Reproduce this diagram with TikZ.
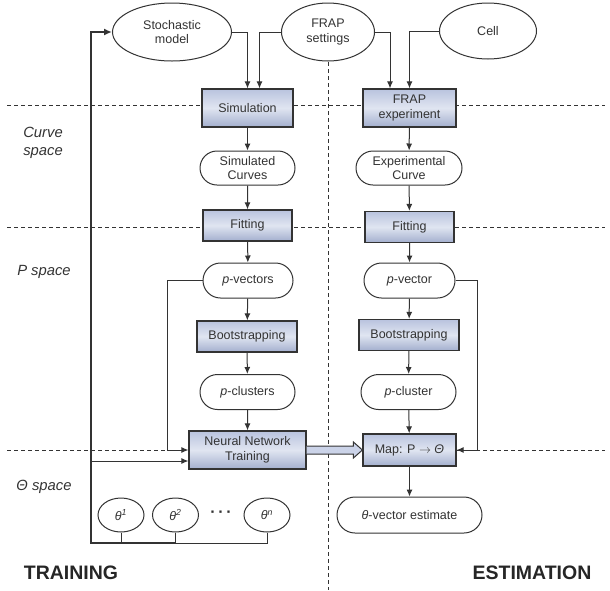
\documentclass[tikz,border=0pt]{standalone}
\usepackage{fontspec}
\setmainfont{Liberation Sans}
\usetikzlibrary{shapes.geometric,shapes.misc,arrows.meta,calc}
\definecolor{ink}{HTML}{333333}
\definecolor{boxtop}{HTML}{B9C3DE}
\definecolor{boxmid}{HTML}{E0E5F1}
\definecolor{boxbot}{HTML}{A3AFCE}
\definecolor{arrfill}{HTML}{CBD3E8}
\begin{document}
\begin{tikzpicture}[x=1pt,y=-1pt,
  every node/.style={text=ink,font=\fontsize{12.5}{14.5}\selectfont,align=center,inner sep=1pt},
  procbox/.style={draw=ink,line width=1.2pt,rectangle,top color=boxtop,bottom color=boxbot,middle color=boxmid,minimum height=31pt},
  databox/.style={draw=ink,line width=1pt,rounded rectangle,fill=white,minimum height=35pt},
  oval/.style={draw=ink,line width=1pt,ellipse,fill=white,inner sep=0pt},
  thetaoval/.style={draw=ink,line width=1pt,ellipse,fill=white,inner sep=0pt,minimum width=46pt,minimum height=34pt},
  conn/.style={draw=ink,line width=1pt,-{Latex[length=7pt,width=6pt]}},
  plainline/.style={draw=ink,line width=1pt},
  loopline/.style={draw=ink,line width=1.8pt},
  sep/.style={draw=ink,line width=0.8pt,dash pattern=on 4pt off 3pt},
  spacelabel/.style={font=\itshape\fontsize{14.8}{18}\selectfont},
  biglabel/.style={font=\bfseries\fontsize{19.5}{22}\selectfont,text=black!85}
]
\useasboundingbox (0,0) rectangle (610,590);

% separators
\draw[sep] (7,105) -- (605,105);
\draw[sep] (7,227) -- (605,227);
\draw[sep] (7,450) -- (605,450);
\draw[sep] (328,62) -- (328,590);

% space labels
\node[spacelabel] (lcurve) at (43,143) {Curve\\space};
\node[spacelabel] (lp) at (44,272) {P space};
\node[spacelabel] (ltheta) at (44,487) {Θ space};
\node[biglabel] (ltrain) at (71,573) {TRAINING};
\node[biglabel] (lest) at (532,573) {ESTIMATION};

% top ovals
\node[oval,minimum width=119pt,minimum height=58pt] (sm) at (172,32) {Stochastic\\model};
\node[oval,minimum width=93pt,minimum height=58pt] (fs) at (328,32) {FRAP\\settings};
\node[oval,minimum width=97pt,minimum height=56pt] (cell) at (488,31) {Cell};

% training column
\node[procbox,minimum width=91pt,minimum height=38pt] (sim) at (247.5,108) {Simulation};
\node[databox,minimum width=97pt,minimum height=34pt] (sc) at (247.5,168) {Simulated\\Curves};
\node[procbox,minimum width=89pt] (fit1) at (247.5,225.5) {Fitting};
\node[databox,minimum width=92pt] (pv1) at (248,280.5) {\textit{p}-vectors};
\node[procbox,minimum width=100pt] (bs1) at (247,336.5) {Bootstrapping};
\node[databox,minimum width=97pt] (pc1) at (247.5,392) {\textit{p}-clusters};
\node[procbox,minimum width=117pt,minimum height=38pt] (nn) at (247.5,450) {Neural Network\\Training};

% estimation column
\node[procbox,minimum width=93pt,minimum height=38pt] (fe) at (409.5,108) {FRAP\\experiment};
\node[databox,minimum width=108pt,minimum height=34pt] (ec) at (409,168) {Experimental\\Curve};
\node[procbox,minimum width=89pt] (fit2) at (409.5,227) {Fitting};
\node[databox,minimum width=93pt] (pv2) at (409.5,280.5) {\textit{p}-vector};
\node[procbox,minimum width=100pt] (bs2) at (409,335) {Bootstrapping};
\node[databox,minimum width=97pt] (pc2) at (408.5,392) {\textit{p}-cluster};
\node[procbox,minimum width=93pt,minimum height=32pt] (map) at (409.5,450) {Map: P $\rightarrow$ \textit{Θ}};
\node[databox,minimum width=147pt,minimum height=36pt] (est) at (409.5,515) {\textit{θ}-vector estimate};

% theta ovals
\node[thetaoval] (th1) at (121,515) {\textit{θ\textsuperscript{1}}};
\node[thetaoval] (th2) at (175.5,515) {\textit{θ\textsuperscript{2}}};
\node[thetaoval] (thn) at (267,515) {\textit{θ\textsuperscript{n}}};
\node[font=\bfseries\fontsize{16}{16}\selectfont] (dots) at (221,514) {·\,·\,·};

\coordinate (tb) at (91,543);
\coordinate (nnlow) at ([yshift=-11pt]nn.west);

% top inputs
\draw[conn] (sm.east) -| (sim.north);
\draw[conn] (fs.west) -| ([xshift=12pt]sim.north);
\draw[conn] (fs.east) -| ([xshift=-19.5pt]fe.north);
\draw[conn] (cell.west) -| (fe.north);

% training chain
\draw[conn] (sim) -- (sc);
\draw[conn] (sc) -- (fit1);
\draw[conn] (fit1) -- (pv1);
\draw[conn] (pv1) -- (bs1);
\draw[conn] (bs1) -- (pc1);
\draw[conn] (pc1) -- (nn);
\draw[conn] (pv1.west) -- ++(-35,0) |- (nn.west);

% estimation chain
\draw[conn] (fe) -- (ec);
\draw[conn] (ec) -- (fit2);
\draw[conn] (fit2) -- (pv2);
\draw[conn] (pv2) -- (bs2);
\draw[conn] (bs2) -- (pc2);
\draw[conn] (pc2) -- (map);
\draw[conn] (map) -- (est);
\draw[conn] (pv2.east) -- ++(22,0) |- (map.east);

% theta feedback loop
\draw[plainline] (th1.south) -- (th1.south |- tb);
\draw[plainline] (th2.south) -- (th2.south |- tb);
\draw[plainline] (thn.south) -- (thn.south |- tb) -- (th2.south |- tb);
\draw[loopline,-{Latex[length=8pt,width=7pt]}] (th2.south |- tb) -- (tb) -- (tb |- sm.west) -- (sm.west);
\draw[conn] (tb |- nnlow) -- (nnlow);

% hollow transfer arrow
\draw[draw=ink,line width=1pt,fill=arrfill]
  ([yshift=4pt]nn.east) -- ([xshift=-9pt,yshift=4pt]map.west)
  -- ([xshift=-9pt,yshift=8pt]map.west) -- (map.west)
  -- ([xshift=-9pt,yshift=-8pt]map.west) -- ([xshift=-9pt,yshift=-4pt]map.west)
  -- ([yshift=-4pt]nn.east);
\end{tikzpicture}
\end{document}
